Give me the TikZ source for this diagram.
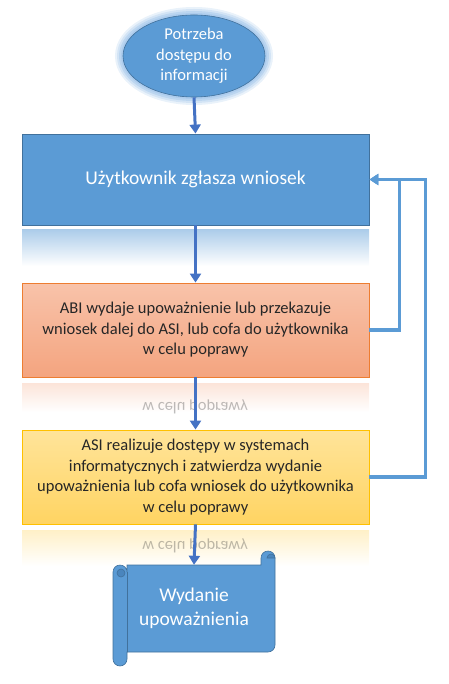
\documentclass[tikz,border=0pt]{standalone}
\usepackage{fontspec}
\setmainfont{Carlito}
\usepackage{graphicx}
\usetikzlibrary{arrows.meta,positioning,shapes.geometric}
\definecolor{flowblue}{HTML}{5B9BD5}
\definecolor{flowblueline}{HTML}{41719C}
\definecolor{flowarrow}{HTML}{4472C4}
\definecolor{flowglow}{HTML}{A9CAEC}
\definecolor{abitop}{HTML}{F8C3AA}
\definecolor{abibottom}{HTML}{F4A47F}
\definecolor{abiline}{HTML}{ED7D31}
\definecolor{asitop}{HTML}{FFE49A}
\definecolor{asibottom}{HTML}{FFD462}
\definecolor{asiline}{HTML}{FFC000}
\definecolor{flowtext}{HTML}{262626}
\definecolor{scrolldark}{HTML}{4A85BD}
\newcommand{\mirrortext}[1]{\scalebox{1}[-1]{#1}}

\begin{document}
\begin{tikzpicture}[
  x=1pt, y=1pt,
  bigfont/.style={font=\fontsize{19.5}{23.5}\selectfont},
  midfont/.style={font=\fontsize{16.5}{20.5}\selectfont},
  stagebox/.style={draw, line width=0.8pt, align=center, minimum width=347pt, inner sep=0pt},
  echo/.style={midfont, text=flowtext, opacity=0.3},
  rollline/.style={draw=flowblueline, line width=0.6pt},
  arr/.style={-{Triangle[length=9pt, width=11pt]}, line width=3pt, draw=flowarrow},
  back/.style={-{Triangle[length=9pt, width=11pt]}, line width=3.2pt, draw=flowblue}
]
\useasboundingbox (0,0) rectangle (448,-684);
% glow round the start
\foreach \w/\o in {16/0.25, 12/0.35, 8/0.55, 4/0.8}
  \draw[flowglow, line width=\w pt, opacity=\o] (194,-56) ellipse (71 and 41);
\node[ellipse, draw=flowblueline, line width=0.6pt, fill=flowblue, minimum width=142pt,
      minimum height=82pt, inner sep=0pt, midfont, text=white, align=center]
  (need) at (194,-56) {Potrzeba\\dostępu do\\informacji};

% reflections
\shade[top color=flowblue!50, bottom color=white] (22,-230) rectangle (369,-266);
\shade[top color=abitop!45, bottom color=white] (22,-383) rectangle (369,-412);
\shade[top color=asitop!55, bottom color=white] (22,-530) rectangle (369,-566);
\node[echo] (abiecho) at (195,-407) {\mirrortext{w celu poprawy}};
\node[echo] (asiecho) at (195,-546) {\mirrortext{w celu poprawy}};

\node[stagebox, draw=flowblueline, fill=flowblue, minimum height=91pt, bigfont, text=white]
  (user) at (195.5,-179.5) {Użytkownik zgłasza wniosek};
\node[stagebox, draw=abiline, top color=abitop, bottom color=abibottom, minimum height=94pt,
      midfont, text=flowtext]
  (abi) at (195.5,-330) {ABI wydaje upoważnienie lub przekazuje\\wniosek dalej do ASI, lub cofa do użytkownika\\w celu poprawy};
\node[stagebox, draw=asiline, top color=asitop, bottom color=asibottom, minimum height=94pt,
      midfont, text=flowtext]
  (asi) at (195.5,-477) {ASI realizuje dostępy w systemach\\informatycznych i zatwierdza wydanie\\upoważnienia lub cofa wniosek do użytkownika\\w celu poprawy};

% scroll
\filldraw[fill=flowblue, rollline]
  (127,-572) -- (127,-565) -- (261,-565) -- (261,-558) arc (180:0:7) -- (275,-645)
  arc (0:-90:7) -- (127,-652) -- (127,-659) arc (0:-180:7) -- (113,-572)
  arc (180:0:7) -- cycle;
\draw[rollline] (127,-572) -- (127,-652);
\filldraw[fill=scrolldark, rollline] (121,-573) circle (4);
\filldraw[fill=scrolldark, rollline] (275,-558) arc (0:180:4) -- cycle;
\node[minimum width=148pt, minimum height=87pt, bigfont, text=white, align=center]
  (scroll) at (194,-608.5) {Wydanie\\upoważnienia};

\draw[arr] (need.south) -- (user.north);
\draw[arr] (user.south) -- (abi.north);
\draw[arr] (abi.south) -- (asi.north);
\draw[arr] (asi.south) -- (scroll.north);
\draw[back] (abi.east) -- ++(30,0) |- (user.east);
\draw[back] (asi.east) -- ++(56,0) |- (user.east);
\end{tikzpicture}
\end{document}
